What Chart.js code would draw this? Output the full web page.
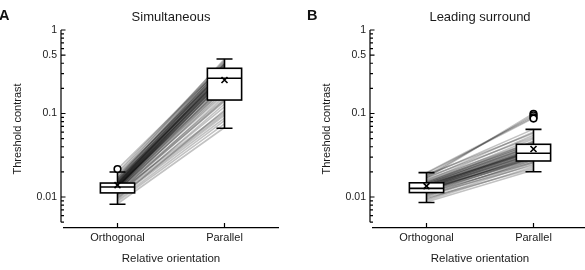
<!DOCTYPE html>
<html>
<head>
<meta charset="utf-8">
<script src="https://cdn.jsdelivr.net/npm/chart.js@4.4.1/dist/chart.umd.min.js"></script>
<style>
  html, body { margin: 0; padding: 0; background: #fff; overflow: hidden; }
  #wrap { position: relative; width: 585px; height: 270px; overflow: hidden; font-family: "Liberation Sans", Arial, sans-serif; }
  .panel { position: absolute; top: 0; width: 285px; height: 270px; }
  .letter { position: absolute; top: 7px; font-weight: bold; font-size: 14.5px; color: #111; }
</style>
</head>
<body>
<div id="wrap">
  <div class="panel" style="left:0"><canvas id="chartA"></canvas></div>
  <div class="panel" style="left:309px"><canvas id="chartB"></canvas></div>
  <div class="letter" style="left:-1px">A</div>
  <div class="letter" style="left:307px">B</div>
</div>
<script>
"use strict";

// categories and axis ticks
const categories = ["Orthogonal", "Parallel"];
const yLabelled = [1, 0.5, 0.1, 0.01];
const yTickValues = [0.005, 0.006, 0.007, 0.008, 0.009,
    0.01, 0.02, 0.03, 0.04, 0.05, 0.06, 0.07, 0.08, 0.09,
    0.1, 0.2, 0.3, 0.4, 0.5, 0.6, 0.7, 0.8, 0.9, 1];

// A: simultaneous, one value per observer
const simOrthogonal = [0.0083, 0.0088, 0.0092, 0.0095, 0.0098, 0.0101, 0.0104, 0.0106, 0.0108,
    0.0110, 0.0111, 0.0113, 0.0115, 0.0117, 0.0119, 0.0121, 0.0123, 0.0125, 0.0127, 0.0129,
    0.0130, 0.0131, 0.0132, 0.0133, 0.0134, 0.0136, 0.0137, 0.0138, 0.0140, 0.0142, 0.0143,
    0.0145, 0.0146, 0.0148, 0.0150, 0.0153, 0.0156, 0.0160, 0.0165, 0.0170, 0.0175, 0.0182,
    0.0190, 0.0198, 0.0216, 0.0128, 0.0135, 0.0139, 0.0141, 0.0144, 0.0147, 0.0152, 0.0126,
    0.0131, 0.0135, 0.0157, 0.0162, 0.0118, 0.0122, 0.0168];
const simParallel = [0.068, 0.075, 0.082, 0.11, 0.088, 0.095, 0.13, 0.10, 0.12,
    0.145, 0.16, 0.105, 0.14, 0.19, 0.15, 0.22, 0.17, 0.25, 0.20, 0.28,
    0.23, 0.26, 0.30, 0.24, 0.27, 0.32, 0.29, 0.21, 0.31, 0.34, 0.27,
    0.36, 0.33, 0.30, 0.38, 0.35, 0.40, 0.28, 0.42, 0.37, 0.45, 0.33,
    0.40, 0.43, 0.39, 0.25, 0.29, 0.33, 0.26, 0.31, 0.35, 0.30, 0.22,
    0.27, 0.24, 0.37, 0.33, 0.18, 0.20, 0.39];

// B: leading surround
const leadOrthogonal = [0.0087, 0.0091, 0.0094, 0.0097, 0.0100, 0.0103, 0.0106, 0.0108, 0.0110,
    0.0112, 0.0114, 0.0116, 0.0118, 0.0120, 0.0122, 0.0123, 0.0125, 0.0126, 0.0127, 0.0129,
    0.0130, 0.0132, 0.0134, 0.0136, 0.0138, 0.0140, 0.0142, 0.0144, 0.0146, 0.0148, 0.0151,
    0.0154, 0.0158, 0.0162, 0.0167, 0.0172, 0.0178, 0.0185, 0.0192, 0.0196, 0.0180, 0.0170,
    0.0128, 0.0133, 0.0137, 0.0121, 0.0143, 0.0139, 0.0124, 0.0149, 0.0131, 0.0119];
const leadParallel = [0.021, 0.023, 0.025, 0.022, 0.026, 0.028, 0.024, 0.027, 0.030,
    0.026, 0.029, 0.032, 0.028, 0.031, 0.034, 0.030, 0.033, 0.036, 0.032, 0.035,
    0.038, 0.034, 0.040, 0.037, 0.042, 0.036, 0.044, 0.039, 0.047, 0.041, 0.050,
    0.043, 0.055, 0.046, 0.060, 0.052, 0.065, 0.058, 0.088, 0.091, 0.095, 0.100,
    0.033, 0.036, 0.038, 0.031, 0.041, 0.035, 0.029, 0.045, 0.037, 0.030];

// box plot summaries [orthogonal, parallel]
const simLow = [0.0082, 0.0665];
const simQ1 = [0.0112, 0.145];
const simMedian = [0.0132, 0.264];
const simQ3 = [0.0147, 0.348];
const simHigh = [0.0199, 0.45];
const simMean = [0.0139, 0.252];
const simOutliers = [[0.0216], []];

const leadLow = [0.0086, 0.0201];
const leadQ1 = [0.0113, 0.027];
const leadMedian = [0.0127, 0.0334];
const leadQ3 = [0.0148, 0.0428];
const leadHigh = [0.0196, 0.0646];
const leadMean = [0.0135, 0.0376];
const leadOutliers = [[], [0.099, 0.095, 0.09, 0.087]];

const FONT = "'Liberation Sans', Arial, sans-serif";
const INK = "#1a1a1a";

// box, whiskers, mean and outliers on top of the observer lines
const boxPlugin = {
    id: "boxes",
    afterDatasetsDraw(chart, args, opts) {
        const { ctx, scales: { x, y } } = chart;
        const s = opts.stats;
        const step = x.getPixelForValue(1) - x.getPixelForValue(0);
        const half = step * 0.16;
        const cap = 8;
        const py = (v) => y.getPixelForValue(v);
        ctx.save();
        ctx.strokeStyle = "#000";
        ctx.lineWidth = 1.6;
        s.q1.forEach((q1, i) => {
            const cx = x.getPixelForValue(i);
            ctx.beginPath();
            ctx.moveTo(cx, py(s.low[i]));
            ctx.lineTo(cx, py(q1));
            ctx.moveTo(cx, py(s.q3[i]));
            ctx.lineTo(cx, py(s.high[i]));
            ctx.moveTo(cx - cap, py(s.low[i]));
            ctx.lineTo(cx + cap, py(s.low[i]));
            ctx.moveTo(cx - cap, py(s.high[i]));
            ctx.lineTo(cx + cap, py(s.high[i]));
            ctx.stroke();

            const top = py(s.q3[i]);
            const bot = py(q1);
            ctx.fillStyle = "#fff";
            ctx.fillRect(cx - half, top, half * 2, bot - top);
            ctx.strokeRect(cx - half, top, half * 2, bot - top);

            ctx.beginPath();
            ctx.moveTo(cx - half, py(s.median[i]));
            ctx.lineTo(cx + half, py(s.median[i]));
            ctx.stroke();

            const my = py(s.mean[i]);
            ctx.beginPath();
            ctx.moveTo(cx - 3, my - 3);
            ctx.lineTo(cx + 3, my + 3);
            ctx.moveTo(cx + 3, my - 3);
            ctx.lineTo(cx - 3, my + 3);
            ctx.stroke();

            s.outliers[i].forEach((v) => {
                ctx.beginPath();
                ctx.arc(cx, py(v), 3.3, 0, Math.PI * 2);
                ctx.fillStyle = "#fff";
                ctx.fill();
                ctx.stroke();
            });
        });
        ctx.restore();
    },
};

// offset y axis line with inward ticks, inward category ticks
const axesPlugin = {
    id: "axesMarks",
    afterDraw(chart) {
        const { ctx, chartArea, scales: { x, y } } = chart;
        const ax = chartArea.left - 3;
        ctx.save();
        ctx.strokeStyle = "#000";
        ctx.lineWidth = 1.2;
        ctx.beginPath();
        ctx.moveTo(ax, y.getPixelForValue(1));
        ctx.lineTo(ax, y.getPixelForValue(0.005));
        y.ticks.forEach((t) => {
            const p = y.getPixelForValue(t.value);
            const len = yLabelled.includes(t.value) ? 4.5 : 3;
            ctx.moveTo(ax, p);
            ctx.lineTo(ax + len, p);
        });
        categories.forEach((c, i) => {
            const p = x.getPixelForValue(i);
            ctx.moveTo(p, chartArea.bottom);
            ctx.lineTo(p, chartArea.bottom - 5);
        });
        ctx.stroke();
        ctx.restore();
    },
};

function makeChart(id, title, orth, par, stats) {
    const datasets = orth.map((v, i) => ({
        data: [v, par[i]],
        borderColor: "rgba(0, 0, 0, 0.24)",
        borderWidth: 1.6,
        pointRadius: 0,
        fill: false,
    }));
    return new Chart(document.getElementById(id), {
        type: "line",
        data: { labels: categories, datasets: datasets },
        plugins: [boxPlugin, axesPlugin],
        options: {
            responsive: true,
            maintainAspectRatio: false,
            animation: false,
            layout: { padding: { left: 0, right: 7, top: 0, bottom: 0 } },
            plugins: {
                legend: { display: false },
                tooltip: { enabled: false },
                title: {
                    display: true,
                    text: title,
                    fullSize: false,
                    color: INK,
                    font: { family: FONT, size: 13, weight: "normal" },
                    padding: { top: 10, bottom: 4.4 },
                },
                boxes: { stats: stats },
            },
            scales: {
                x: {
                    type: "category",
                    offset: true,
                    grid: { display: false, drawTicks: false },
                    border: { display: true, color: "#000", width: 1.2 },
                    ticks: { color: INK, font: { family: FONT, size: 11 }, padding: 3 },
                    title: {
                        display: true,
                        text: "Relative orientation",
                        color: INK,
                        font: { family: FONT, size: 11.5 },
                        padding: { top: 0, bottom: 4 },
                    },
                    afterFit: (s) => { s.height = 42; },
                },
                y: {
                    type: "logarithmic",
                    min: 0.004255,
                    max: 1,
                    grid: { display: false, drawTicks: false },
                    border: { display: false },
                    afterBuildTicks: (s) => {
                        s.ticks = yTickValues.map((v) => ({ value: v }));
                    },
                    ticks: {
                        autoSkip: false,
                        color: INK,
                        padding: 7,
                        font: { family: FONT, size: 10.5 },
                        callback: (v) => (yLabelled.includes(v) ? String(v) : ""),
                    },
                    title: {
                        display: true,
                        text: "Threshold contrast",
                        color: INK,
                        font: { family: FONT, size: 11 },
                        padding: { top: 11, bottom: 0 },
                    },
                    afterFit: (s) => { s.width = 64; },
                },
            },
        },
    });
}

makeChart("chartA", "Simultaneous", simOrthogonal, simParallel, {
    low: simLow, q1: simQ1, median: simMedian, q3: simQ3,
    high: simHigh, mean: simMean, outliers: simOutliers,
});
makeChart("chartB", "Leading surround", leadOrthogonal, leadParallel, {
    low: leadLow, q1: leadQ1, median: leadMedian, q3: leadQ3,
    high: leadHigh, mean: leadMean, outliers: leadOutliers,
});
</script>
</body>
</html>
